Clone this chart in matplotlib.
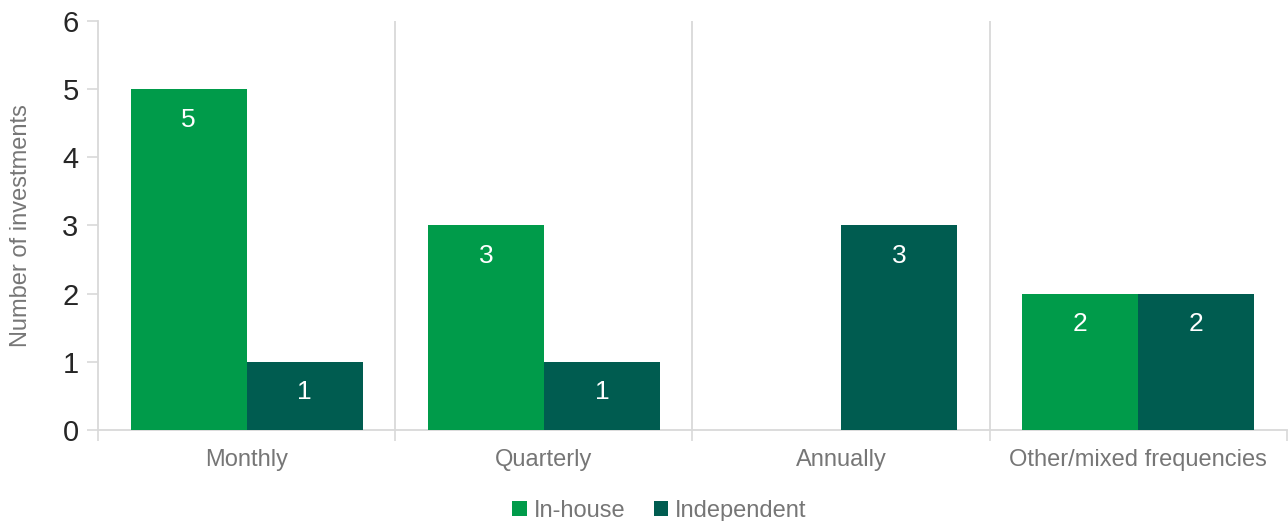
import numpy as np
import matplotlib.pyplot as plt

plt.rcParams['font.family'] = ['Liberation Sans', 'DejaVu Sans']

# dados
categorias = ['Monthly', 'Quarterly', 'Annually', 'Other/mixed frequencies']
in_house = [5, 3, 0, 2]
independent = [1, 1, 3, 2]
series = ['In-house', 'Independent']

cor_in = '#009B4A'
cor_ind = '#005C50'
cinza = '#D9D9D9'
texto = '#767676'

fig = plt.figure(figsize=(12.88, 5.21), dpi=100)
ax = fig.add_axes([0.0761, 0.1747, 0.9231, 0.785])

x = np.arange(len(categorias))
w = 0.39
b1 = ax.bar(x - w / 2, in_house, w, color=cor_in, label=series[0], zorder=3)
b2 = ax.bar(x + w / 2, independent, w, color=cor_ind, label=series[1], zorder=3)

for bars in (b1, b2):
    for r in bars:
        h = r.get_height()
        if h > 0:
            ax.text(r.get_x() + r.get_width() / 2, h - 0.27, f'{int(h)}',
                    ha='center', va='top', color='white', fontsize=19, zorder=4)

ax.set_xlim(-0.5, len(categorias) - 0.5)
ax.set_ylim(0, 6)
ax.set_yticks(range(0, 7))
ax.tick_params(axis='y', labelsize=21, labelcolor='#262626', color=cinza, length=8, width=1.2, pad=6)

# separadores entre categorias
for b in np.arange(0.5, len(categorias) - 0.5, 1):
    ax.axvline(b, color=cinza, lw=1.3, zorder=1)
ax.set_xticks(np.arange(-0.5, len(categorias), 1), minor=False)
ax.set_xticklabels([])
ax.tick_params(axis='x', which='major', color=cinza, length=8, width=1.2)
ax.set_xticks(x, minor=True)
ax.set_xticklabels(categorias, minor=True)
ax.tick_params(axis='x', which='minor', length=0, labelsize=17, labelcolor=texto, pad=14)

for s in ['top', 'right']:
    ax.spines[s].set_visible(False)
ax.spines['left'].set_color(cinza)
ax.spines['bottom'].set_color(cinza)
ax.spines['left'].set_linewidth(1.3)
ax.spines['bottom'].set_linewidth(1.3)

ax.set_ylabel('Number of investments', fontsize=17, color=texto, labelpad=22)

fig.legend(loc='lower center', bbox_to_anchor=(0.512, -0.042), ncol=2, frameon=False,
           fontsize=17, labelcolor=texto, handlelength=0.6, handleheight=0.6,
           handletextpad=0.3, columnspacing=1.2)

fig.savefig('out.png', dpi=100)
